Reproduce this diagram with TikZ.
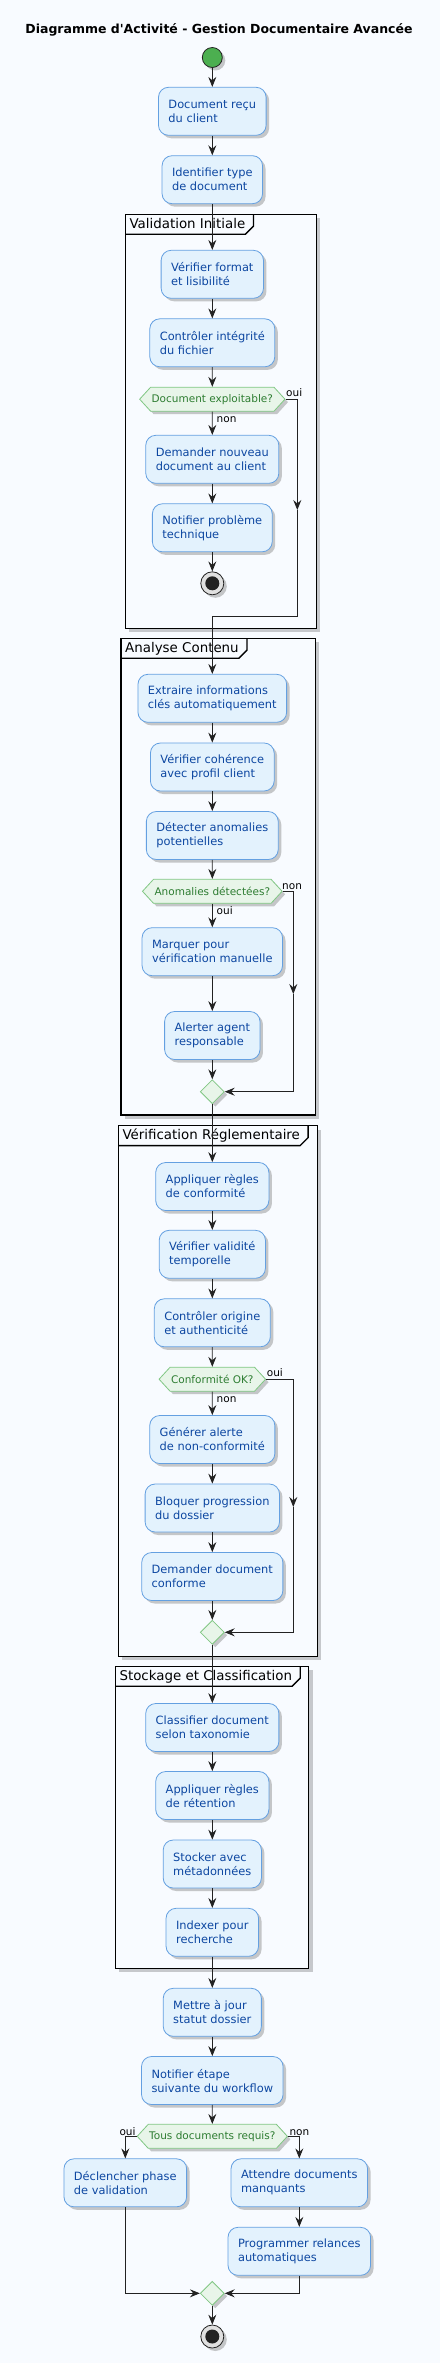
\documentclass[tikz,border=0pt]{standalone}
\usepackage{fontspec}
\setmainfont{DejaVu Sans}[Ligatures=TeXOff]
\usetikzlibrary{arrows.meta,shapes.geometric,shapes.symbols,shadows}

\definecolor{fond}{RGB}{248,251,255}
\definecolor{actfill}{RGB}{227,242,253}
\definecolor{actdraw}{RGB}{100,160,225}
\definecolor{acttext}{RGB}{13,71,161}
\definecolor{decfill}{RGB}{232,245,233}
\definecolor{decdraw}{RGB}{129,199,132}
\definecolor{dectext}{RGB}{46,125,50}
\definecolor{vert}{RGB}{76,175,80}
\definecolor{trait}{RGB}{34,34,34}

\tikzset{
  ombre/.style={drop shadow={shadow xshift=3pt,shadow yshift=-3pt,opacity=.3,fill=black!70}},
  act/.style={draw=actdraw, fill=actfill, rounded corners=10pt, align=left,
    text=acttext, font=\fontsize{11.4}{14}\selectfont, inner xsep=10pt,
    inner ysep=0pt, minimum height=48pt, line width=0.8pt, ombre},
  dec/.style={shape=signal, signal to=east and west, signal pointer angle=95,
    draw=decdraw, fill=decfill, text=dectext, font=\fontsize{10.5}{12}\selectfont,
    minimum height=24pt, inner xsep=1pt, inner ysep=0pt, line width=0.8pt, ombre},
  merge/.style={diamond, draw=decdraw, fill=decfill, minimum size=24pt,
    inner sep=0pt, line width=0.8pt, ombre},
  startnode/.style={circle, draw=trait, fill=vert, minimum size=20pt,
    inner sep=0pt, line width=0.8pt, ombre},
  stopnode/.style={circle, draw=trait, fill=black!12, minimum size=23pt,
    inner sep=0pt, line width=0.8pt, ombre,
    path picture={\fill[trait] (path picture bounding box.center) circle (7pt);}},
  groupbox/.style={draw=black, line width=1.3pt, fill=fond,
    drop shadow={shadow xshift=4pt,shadow yshift=-4pt,opacity=.2,fill=black}},
  grptitle/.style={anchor=north west, inner xsep=4pt, inner ysep=2.5pt,
    text height=11.5pt, text depth=3pt, font=\fontsize{13.4}{16}\selectfont},
  grptab/.style={draw=black, line width=1.3pt},
  lbl/.style={font=\fontsize{10.5}{12}\selectfont, inner sep=0pt},
  flow/.style={draw=trait, line width=0.8pt,
    -{Stealth[length=10pt,width=8pt,inset=3.5pt]}},
}

\begin{document}
\begin{tikzpicture}[x=1pt,y=-1pt]
\useasboundingbox (0,0) rectangle (440,2363);
\fill[fond] (0,0) rectangle (440,2363);

\node[font=\bfseries\fontsize{12.5}{15}\selectfont, anchor=base] (titre) at (219,34)
  {Diagramme d'Activité - Gestion Documentaire Avancée};

% groupes
\path[groupbox] (125.3,214.3) rectangle (316.3,628.3);
\node[grptitle] (tvalid) at (125.3,214.3) {Validation Initiale};
\draw[grptab] (tvalid.south west) -- ([xshift=-4pt]tvalid.south east)
  -- ([xshift=4pt,yshift=8pt]tvalid.south east) -- ([xshift=4pt]tvalid.north east);

\path[groupbox] (121,638.3) rectangle (315.3,1115);
\node[grptitle] (tanalyse) at (121,638.3) {Analyse Contenu};
\draw[grptab] (tanalyse.south west) -- ([xshift=-4pt]tanalyse.south east)
  -- ([xshift=4pt,yshift=8pt]tanalyse.south east) -- ([xshift=4pt]tanalyse.north east);

\path[groupbox] (118.3,1125.7) rectangle (317.3,1656.3);
\node[grptitle] (tregle) at (118.3,1125.7) {Vérification Réglementaire};
\draw[grptab] (tregle.south west) -- ([xshift=-4pt]tregle.south east)
  -- ([xshift=4pt,yshift=8pt]tregle.south east) -- ([xshift=4pt]tregle.north east);

\path[groupbox] (115.3,1666.3) rectangle (308.7,1968.3);
\node[grptitle] (tstock) at (115.3,1666.3) {Stockage et Classification};
\draw[grptab] (tstock.south west) -- ([xshift=-4pt]tstock.south east)
  -- ([xshift=4pt,yshift=8pt]tstock.south east) -- ([xshift=4pt]tstock.north east);

% activites
\node[startnode] (debut) at (212.3,57.5) {};
\node[act] (recu) at (212.3,111.3) {Document reçu\\du client};
\node[act] (typedoc) at (212.3,179.7) {Identifier type\\de document};

\node[act] (format) at (212.3,274.3) {Vérifier format\\et lisibilité};
\node[act] (integrite) at (212.3,342.8) {Contrôler intégrité\\du fichier};
\node[dec] (exploit) at (212.3,399.2) {Document exploitable?};
\node[act] (nouveau) at (212.3,459.3) {Demander nouveau\\document au client};
\node[act] (probleme) at (212.3,527.8) {Notifier problème\\technique};
\node[stopnode] (fin1) at (212.3,583.3) {};
\coordinate (c1) at (297.3,510);
\coordinate (j1) at (212.3,616);
\node[lbl, anchor=base west] (oui1) at (286,396.5) {oui};
\node[lbl, anchor=base west] (non1) at (216.5,422.3) {non};

\node[act] (extraire) at (212.3,698.3) {Extraire informations\\clés automatiquement};
\node[act] (coherence) at (212.3,767) {Vérifier cohérence\\avec profil client};
\node[act] (detecter) at (212.3,835.5) {Détecter anomalies\\potentielles};
\node[dec] (anomalies) at (212.3,891.3) {Anomalies détectées?};
\node[act] (marquer) at (212.3,951.7) {Marquer pour\\vérification manuelle};
\node[act] (alerter) at (212.3,1035.5) {Alerter agent\\responsable};
\node[merge] (fus2) at (212.3,1091.7) {};
\coordinate (c2) at (293.3,994);
\node[lbl, anchor=base west] (non2) at (282,889.3) {non};
\node[lbl, anchor=base west] (oui2) at (216.5,914.3) {oui};

\node[act] (regles) at (212.3,1186.5) {Appliquer règles\\de conformité};
\node[act] (validite) at (212.3,1254.3) {Vérifier validité\\temporelle};
\node[act] (origine) at (212.3,1322.8) {Contrôler origine\\et authenticité};
\node[dec] (conforme) at (212.3,1379.2) {Conformité OK?};
\node[act] (alerte) at (212.3,1439.5) {Générer alerte\\de non-conformité};
\node[act] (bloquer) at (212.3,1508) {Bloquer progression\\du dossier};
\node[act] (demdoc) at (212.3,1576.5) {Demander document\\conforme};
\node[merge] (fus3) at (212.3,1632.3) {};
\coordinate (c3) at (293.3,1507);
\node[lbl, anchor=base west] (oui3) at (266.7,1376.7) {oui};
\node[lbl, anchor=base west] (non3) at (216.5,1402.3) {non};

\node[act] (classifier) at (212.3,1727.5) {Classifier document\\selon taxonomie};
\node[act] (retention) at (212.3,1795.5) {Appliquer règles\\de rétention};
\node[act] (stocker) at (212.3,1864) {Stocker avec\\métadonnées};
\node[act] (indexer) at (212.3,1932.3) {Indexer pour\\recherche};

\node[act] (statut) at (212.3,2012.3) {Mettre à jour\\statut dossier};
\node[act] (etape) at (212.3,2080.5) {Notifier étape\\suivante du workflow};
\node[dec] (requis) at (212.3,2136.3) {Tous documents requis?};
\node[act] (declencher) at (125.3,2182.8) {Déclencher phase\\de validation};
\node[act] (attendre) at (299.3,2182.8) {Attendre documents\\manquants};
\node[act] (relances) at (299.3,2251.3) {Programmer relances\\automatiques};
\node[merge] (fus4) at (212.3,2293.3) {};
\node[stopnode] (fin2) at (212.3,2336.5) {};
\node[lbl, anchor=base west] (oui4) at (119.3,2135) {oui};
\node[lbl, anchor=base west] (non4) at (289.3,2135) {non};

% fleches
\draw[flow] (debut) -- (recu);
\draw[flow] (recu) -- (typedoc);
\draw[flow] (typedoc) -- (format);
\draw[flow] (format) -- (integrite);
\draw[flow] (integrite) -- (exploit);
\draw[flow] (exploit) -- (nouveau);
\draw[flow] (nouveau) -- (probleme);
\draw[flow] (probleme) -- (fin1);
\draw[flow] (exploit.east) -| (c1);
\draw[flow] (c1) |- (j1) -- (extraire);

\draw[flow] (extraire) -- (coherence);
\draw[flow] (coherence) -- (detecter);
\draw[flow] (detecter) -- (anomalies);
\draw[flow] (anomalies) -- (marquer);
\draw[flow] (marquer) -- (alerter);
\draw[flow] (alerter) -- (fus2);
\draw[flow] (anomalies.east) -| (c2);
\draw[flow] (c2) |- (fus2.east);
\draw[flow] (fus2) -- (regles);

\draw[flow] (regles) -- (validite);
\draw[flow] (validite) -- (origine);
\draw[flow] (origine) -- (conforme);
\draw[flow] (conforme) -- (alerte);
\draw[flow] (alerte) -- (bloquer);
\draw[flow] (bloquer) -- (demdoc);
\draw[flow] (demdoc) -- (fus3);
\draw[flow] (conforme.east) -| (c3);
\draw[flow] (c3) |- (fus3.east);
\draw[flow] (fus3) -- (classifier);

\draw[flow] (classifier) -- (retention);
\draw[flow] (retention) -- (stocker);
\draw[flow] (stocker) -- (indexer);
\draw[flow] (indexer) -- (statut);
\draw[flow] (statut) -- (etape);
\draw[flow] (etape) -- (requis);
\draw[flow] (requis.west) -| (declencher);
\draw[flow] (requis.east) -| (attendre);
\draw[flow] (attendre) -- (relances);
\draw[flow] (declencher) |- (fus4);
\draw[flow] (relances) |- (fus4);
\draw[flow] (fus4) -- (fin2);
\end{tikzpicture}
\end{document}
